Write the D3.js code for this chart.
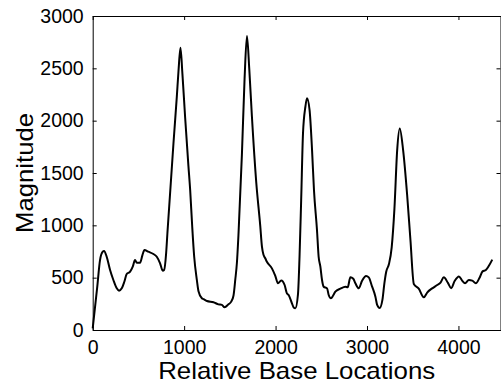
<!DOCTYPE html>
<meta charset="utf-8">
<head>
<script src="https://d3js.org/d3.v7.min.js"></script>
<style>
    body { margin: 0; background: #fff; }
</style>
</head>
<body>
<div id="graph"></div>
<script>
// base locations and magnitudes
var basePos = [0, 50, 80, 110, 124, 153, 190, 226, 263, 288, 318, 346, 372, 409, 438, 463, 482, 518, 544, 566,
    609, 664, 701, 737, 766, 781, 803, 817, 883, 920, 938, 960, 981, 1011, 1047, 1066, 1088, 1110, 1139, 1157,
    1194, 1212, 1249, 1321, 1376, 1413, 1442, 1485, 1515, 1540, 1559, 1577, 1595, 1632, 1661, 1687, 1712, 1741,
    1789, 1832, 1851, 1869, 1887, 1905, 1960, 1997, 2026, 2062, 2099, 2124, 2143, 2179, 2197, 2216, 2245, 2262,
    2280, 2300, 2326, 2344, 2372, 2399, 2420, 2453, 2471, 2490, 2508, 2526, 2563, 2581, 2606, 2630, 2654, 2709,
    2763, 2789, 2818, 2850, 2873, 2909, 2946, 2990, 3019, 3056, 3092, 3111, 3138, 3168, 3190, 3210, 3240, 3270,
    3300, 3330, 3358, 3395, 3439, 3475, 3512, 3566, 3621, 3658, 3713, 3768, 3804, 3840, 3885, 3920, 3960, 4005,
    4042, 4072, 4114, 4151, 4190, 4228, 4264, 4300, 4333, 4370];
var magnitude = [16, 414, 668, 748, 755, 700, 573, 478, 398, 376, 398, 461, 535, 557, 605, 669, 643, 643, 716, 764,
    748, 726, 700, 637, 567, 573, 732, 924, 1780, 2230, 2470, 2696, 2450, 2030, 1566, 1337, 993, 700, 478, 370,
    303, 295, 277, 265, 245, 240, 217, 245, 271, 330, 478, 640, 924, 1680, 2400, 2808, 2500, 2044,
    1407, 1000, 796, 716, 685, 652, 589, 517, 446, 473, 430, 350, 334, 255, 217, 207, 340, 700,
    1242, 1879, 2133, 2215, 2101, 1719, 1337, 955, 700, 605, 478, 414, 398, 334, 303, 330, 366, 395,
    414, 408, 505, 490, 446, 398, 470, 516, 503, 414, 318, 239, 210, 285, 446, 557, 630, 790,
    1160, 1719, 1926, 1719, 1290, 860, 440, 395, 312, 358, 398, 430, 452, 503, 450, 400, 470, 512,
    470, 446, 478, 472, 446, 494, 560, 573, 613, 672];
var xTicks = [0, 1000, 2000, 3000, 4000];
var yTicks = [0, 500, 1000, 1500, 2000, 2500, 3000];

var W = 501, H = 383;
var margin = {top: 16, right: 0.5, bottom: 53, left: 92.7};
var width = W - margin.left - margin.right,
    height = H - margin.top - margin.bottom;
var fontFam = "'Liberation Sans', Arial, sans-serif";

var svg = d3.select("#graph")
  .append("svg")
    .attr("width", W)
    .attr("height", H)
  .append("g")
    .attr("transform", "translate(" + margin.left + "," + margin.top + ")");

var x = d3.scaleLinear().domain([0, 4460]).range([0, width]);
var y = d3.scaleLinear().domain([0, 3000]).range([height, 0]);

function styleLabels(g) {
    g.attr("font-family", fontFam).attr("font-size", 19.5);
    g.selectAll("text").attr("fill", "#000");
}

// frame with inward ticks on all four sides
svg.append("g")
    .attr("transform", "translate(0," + height + ")")
    .call(d3.axisBottom(x).tickValues(xTicks).tickFormat(d3.format("d"))
        .tickSizeInner(-4).tickSizeOuter(0).tickPadding(10))
    .call(styleLabels);
svg.append("g")
    .call(d3.axisTop(x).tickValues(xTicks).tickSizeInner(-4).tickSizeOuter(0).tickFormat(""));
svg.append("g")
    .call(d3.axisLeft(y).tickValues(yTicks).tickFormat(d3.format("d"))
        .tickSizeInner(-4).tickSizeOuter(0).tickPadding(9))
    .call(styleLabels);
svg.append("g")
    .attr("transform", "translate(" + width + ",0)")
    .call(d3.axisRight(y).tickValues(yTicks).tickSizeInner(-4).tickSizeOuter(0).tickFormat(""));
svg.selectAll(".domain").attr("stroke", "#000");
svg.selectAll(".tick line").attr("stroke", "#000");

// magnitude curve
var pts = basePos.map(function(b, i) { return [b, magnitude[i]]; });
svg.append("path")
    .datum(pts)
    .attr("fill", "none")
    .attr("stroke", "#000")
    .attr("stroke-width", 2)
    .attr("stroke-linejoin", "round")
    .attr("d", d3.line()
        .x(function(d) { return x(d[0]); })
        .y(function(d) { return y(d[1]); })
        .curve(d3.curveMonotoneX));

// axis labels
svg.append("text")
    .attr("x", 296.7 - margin.left)
    .attr("y", 379 - margin.top)
    .attr("text-anchor", "middle")
    .attr("textLength", 277)
    .attr("lengthAdjust", "spacingAndGlyphs")
    .style("font", "24px " + fontFam)
    .text("Relative Base Locations");

svg.append("text")
    .attr("transform", "translate(" + (33 - margin.left) + "," + (173 - margin.top) + ") rotate(-90)")
    .attr("text-anchor", "middle")
    .attr("textLength", 120)
    .attr("lengthAdjust", "spacingAndGlyphs")
    .style("font", "24px " + fontFam)
    .text("Magnitude");
</script>
</body>
